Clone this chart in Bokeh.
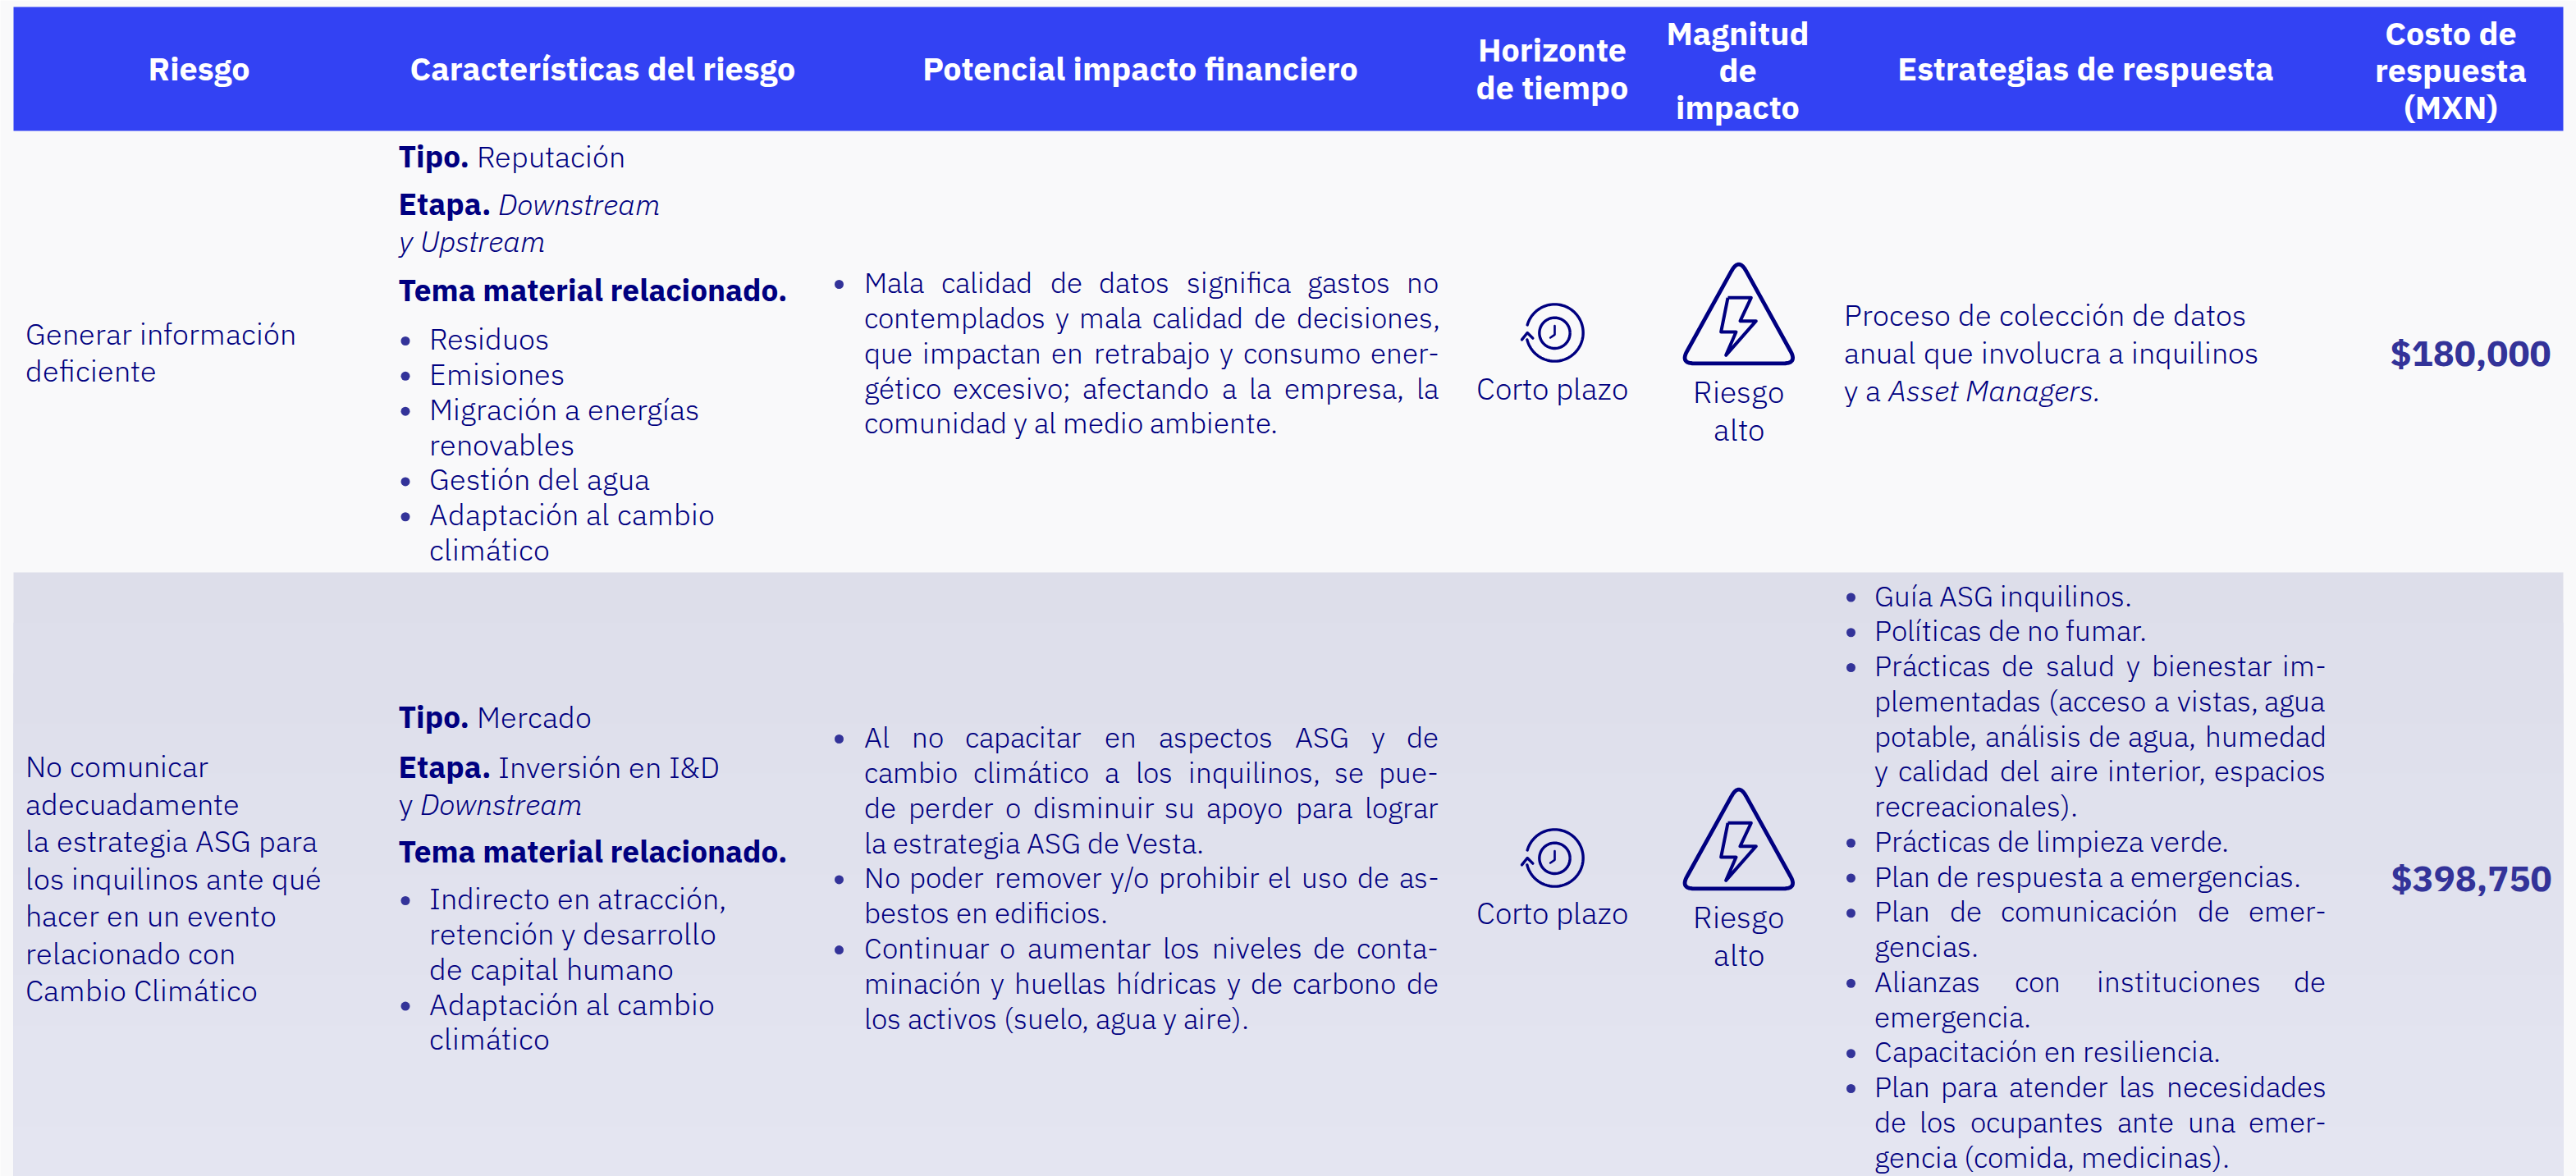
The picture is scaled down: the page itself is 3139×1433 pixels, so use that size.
import base64, glob, io, os
import numpy as np
from bokeh.plotting import figure
from bokeh.models import Range1d
from bokeh.core.properties import value
from bokeh.embed import file_html
from bokeh.resources import INLINE
from PIL import ImageFont
from fontTools.ttLib import TTFont
from fontTools.varLib import instancer
from fontTools import subset

# ---------- table content ----------
HEADERS = [
    ["Riesgo"],
    ["Características del riesgo"],
    ["Potencial impacto financiero"],
    ["Horizonte", "de tiempo"],
    ["Magnitud", "de", "impacto"],
    ["Estrategias de respuesta"],
    ["Costo de", "respuesta", "(MXN)"],
]
R1_RISK = ["Generar información", "deficiente"]
R2_RISK = ["No comunicar", "adecuadamente", "la estrategia ASG para", "los inquilinos ante qué",
           "hacer en un evento", "relacionado con", "Cambio Climático"]
R1_TIPO = "Reputación"
R2_TIPO = "Mercado"
R1_THEMES = [["Residuos"], ["Emisiones"], ["Migración a energías", "renovables"], ["Gestión del agua"],
             ["Adaptación al cambio", "climático"]]
R2_THEMES = [["Indirecto en atracción,", "retención y desarrollo", "de capital humano"],
             ["Adaptación al cambio", "climático"]]
R1_IMPACT = [["Mala calidad de datos significa gastos no", "contemplados y mala calidad de decisiones,",
              "que impactan en retrabajo y consumo ener-", "gético excesivo; afectando a la empresa, la",
              "comunidad y al medio ambiente."]]
R2_IMPACT = [["Al no capacitar en aspectos ASG y de", "cambio climático a los inquilinos, se pue-",
              "de perder o disminuir su apoyo para lograr", "la estrategia ASG de Vesta."],
             ["No poder remover y/o prohibir el uso de as-", "bestos en edificios."],
             ["Continuar o aumentar los niveles de conta-", "minación y huellas hídricas y de carbono de",
              "los activos (suelo, agua y aire)."]]
HORIZON = "Corto plazo"
MAGNITUDE = ["Riesgo", "alto"]
R2_STRATEGY = [["Guía ASG inquilinos."], ["Políticas de no fumar."],
               ["Prácticas de salud y bienestar im-", "plementadas (acceso a vistas, agua",
                "potable, análisis de agua, humedad", "y calidad del aire interior, espacios",
                "recreacionales)."],
               ["Prácticas de limpieza verde."], ["Plan de respuesta a emergencias."],
               ["Plan de comunicación de emer-", "gencias."], ["Alianzas con instituciones de", "emergencia."],
               ["Capacitación en resiliencia."],
               ["Plan para atender las necesidades", "de los ocupantes ante una emer-",
                "gencia (comida, medicinas)."]]
COSTS = ["$180,000", "$398,750"]

# ---------- styles ----------
NAVY, BLUE, HEAD, PAPER = "#000080", "#333399", "#3342F3", "#F9F9FA"
BAND_TOP, BAND_BOTTOM = np.array([0xDD, 0xDE, 0xEA]), np.array([0xE4, 0xE5, 0xF1])
SIZE, TSIZE, MSIZE, PSIZE = 36.25, 35.0, 36.7, 35.8
BSIZE, HSIZE, CSIZE, PITCH = 37, 39.5, 43.5, 42.85
LIGHT, BOLD = "IBM Plex Sans Light", "IBM Plex Sans"
BASE_K = 0.385


def light_font(name):
    f = TTFont(glob.glob("/usr/share/fonts/truetype/google-fonts/" + name)[0])
    f = instancer.instantiateVariableFont(f, {"wght": 300, "wdth": 100})
    opts = subset.Options()
    opts.layout_features = ["*"]
    s = subset.Subsetter(opts)
    s.populate(unicodes=list(range(0x20, 0x180)))
    s.subset(f)
    b = io.BytesIO()
    f.save(b)
    return b.getvalue()


reg_bytes = light_font("IBMPlexSans[[]wdth,wght[]].ttf")
ita_bytes = light_font("IBMPlexSans-Italic[[]wdth,wght[]].ttf")
face = ('@font-face{font-family:"%s";font-style:%s;font-weight:400;'
        'src:url(data:font/ttf;base64,%s) format("truetype");}')
CSS = (face % (LIGHT, "normal", base64.b64encode(reg_bytes).decode()) +
       face % (LIGHT, "italic", base64.b64encode(ita_bytes).decode()))
PRELOAD = ("<script>document.fonts.load('36px \"%s\"');document.fonts.load('italic 36px \"%s\"');"
           "document.fonts.load('bold 36px \"%s\"');</script>" % (LIGHT, LIGHT, BOLD))
TEMPLATE = "{% block preamble %}<style>" + CSS + "</style>" + PRELOAD + "{% endblock %}"
measure = ImageFont.truetype(io.BytesIO(reg_bytes), TSIZE)

p = figure(width=3139, height=1433, output_backend="svg", toolbar_location=None,
           x_range=Range1d(0, 3139), y_range=Range1d(1433, 0), min_border=0,
           background_fill_color=PAPER, border_fill_color=PAPER, outline_line_color=None)
p.axis.visible = False
p.grid.visible = False


def txt(x, y, s, font=LIGHT, style="normal", size=SIZE, color=NAVY, align="left"):
    p.text([x], [y - BASE_K * size], text=[s], text_font=value(font), text_font_style=style,
           text_font_size=f"{size}px", text_color=color, text_align=align, text_baseline="alphabetic")


def justified(s, left, right, y):
    words = s.split(" ")
    widths = [measure.getlength(w) for w in words]
    gap = (right - left - sum(widths)) / (len(words) - 1)
    x = left
    for w, wd in zip(words, widths):
        txt(x, y, w, size=TSIZE)
        x += wd + gap


def bullets(items, bx, left, right, y0, just, pitch=PITCH):
    y = y0
    for item in items:
        p.scatter([bx], [y - 11], size=11, color=BLUE, line_color=None)
        for k, line in enumerate(item):
            if just and k < len(item) - 1:
                justified(line, left, right, y)
            else:
                txt(left, y, line, size=TSIZE if just else SIZE)
            y += pitch


def fillet(pts, r):
    out = []
    n = len(pts)
    for i in range(n):
        a, b, c = np.array(pts[i - 1], float), np.array(pts[i], float), np.array(pts[(i + 1) % n], float)
        u, v = (a - b) / np.linalg.norm(a - b), (c - b) / np.linalg.norm(c - b)
        ang = np.arccos(np.dot(u, v))
        d = r / np.tan(ang / 2)
        p0, p1 = b + u * d, b + v * d
        for t in np.linspace(0, 1, 14):
            out.append((1 - t) ** 2 * p0 + 2 * t * (1 - t) * b + t ** 2 * p1)
    out.append(out[0])
    return np.array(out)


def icons(dy):
    X = lambda v: 1780 + np.asarray(v, float) / 3
    Y = lambda v: 300 + dy + np.asarray(v, float) / 3
    t = np.radians(np.linspace(196, 526, 90))
    p.line(X(342 + 104 * np.cos(t)), Y(315 + 104 * np.sin(t)), line_color=NAVY, line_width=3.4, line_cap="round")
    p.line(X([222, 242, 262]), Y([340, 315, 335]), line_color=NAVY, line_width=3.4, line_cap="round", line_join="round")
    t = np.radians(np.linspace(0, 360, 70))
    p.line(X(342 + 56 * np.cos(t)), Y(316 + 56 * np.sin(t)), line_color=NAVY, line_width=3.4)
    p.line(X([342, 342, 326]), Y([290, 322, 333]), line_color=NAVY, line_width=2.6, line_cap="round", line_join="round")
    tri = fillet([(1015, 41), (1229, 427), (801, 427)], 30)
    p.line(X(tri[:, 0]), Y(tri[:, 1]), line_color=NAVY, line_width=4.8, line_join="round")
    bolt = [(975, 187), (1060, 187), (1020, 272), (1078, 272), (968, 397), (1005, 312), (950, 312), (975, 187)]
    p.line(X([q[0] for q in bolt]), Y([q[1] for q in bolt]), line_color=NAVY, line_width=4, line_join="round")


# ---------- bands ----------
p.quad(left=[16], right=[3123], top=[8], bottom=[159], fill_color=HEAD, line_color=None)
STRIPS = 12
for i in range(STRIPS):
    c = BAND_TOP + (BAND_BOTTOM - BAND_TOP) * i / (STRIPS - 1)
    p.quad(left=[16], right=[3123], top=[697 + (1433 - 697) * i / STRIPS], bottom=[1433],
           fill_color="#%02X%02X%02X" % tuple(int(round(v)) for v in c), line_color=None)

# ---------- header ----------
HX = [242, 734, 1389, 1891, 2117, 2541, 2986]
HY = {1: [98], 2: [75, 121], 3: [55, 100, 145]}
for cx, lines in zip(HX, HEADERS):
    for yy, line in zip(HY[len(lines)], lines):
        txt(cx, yy, line, font=BOLD, style="bold", size=HSIZE, color="white", align="center")

# ---------- row 1 ----------
for i, line in enumerate(R1_RISK):
    txt(30, 420 + 45.3 * i, line)
txt(485, 204, "Tipo.", font=BOLD, style="bold", size=BSIZE)
txt(580, 204, R1_TIPO)
txt(485, 262, "Etapa.", font=BOLD, style="bold", size=BSIZE)
txt(606, 262, "Downstream", style="italic")
txt(485, 307, "y Upstream", style="italic")
txt(485, 367, "Tema material relacionado.", font=BOLD, style="bold", size=BSIZE)
bullets(R1_THEMES, 493.5, 522, 1000, 426, False)
bullets(R1_IMPACT, 1022, 1052, 1753, 357, True)
icons(0)
txt(1891, 487, HORIZON, size=MSIZE, align="center")
for i, line in enumerate(MAGNITUDE):
    txt(2118, 491 + 46 * i, line, size=MSIZE, align="center")
txt(2246, 397, "Proceso de colección de datos", size=PSIZE)
txt(2246, 443, "anual que involucra a inquilinos", size=PSIZE)
txt(2246, 489, "y a", size=PSIZE)
txt(2300, 489, "Asset Managers.", style="italic", size=PSIZE)
txt(3010, 446, COSTS[0], font=BOLD, style="bold", size=CSIZE, color=BLUE, align="center")

# ---------- row 2 ----------
for i, line in enumerate(R2_RISK):
    txt(30, 947 + 45.5 * i, line)
txt(485, 887, "Tipo.", font=BOLD, style="bold", size=BSIZE)
txt(580, 887, R2_TIPO)
txt(485, 948, "Etapa.", font=BOLD, style="bold", size=BSIZE)
txt(606, 948, "Inversión en I&D")
txt(485, 993, "y")
txt(511, 993, "Downstream", style="italic")
txt(485, 1051, "Tema material relacionado.", font=BOLD, style="bold", size=BSIZE)
bullets(R2_THEMES, 493.5, 522, 1000, 1108, False)
bullets(R2_IMPACT, 1022, 1052, 1753, 911, True)
icons(640)
txt(1891, 1126, HORIZON, size=MSIZE, align="center")
for i, line in enumerate(MAGNITUDE):
    txt(2118, 1131 + 46 * i, line, size=MSIZE, align="center")
bullets(R2_STRATEGY, 2255, 2283, 2834, 738.5, True, pitch=42.75)
txt(3011, 1086, COSTS[1], font=BOLD, style="bold", size=CSIZE, color=BLUE, align="center")

open("out.html", "w").write(file_html(p, INLINE, template=TEMPLATE))
